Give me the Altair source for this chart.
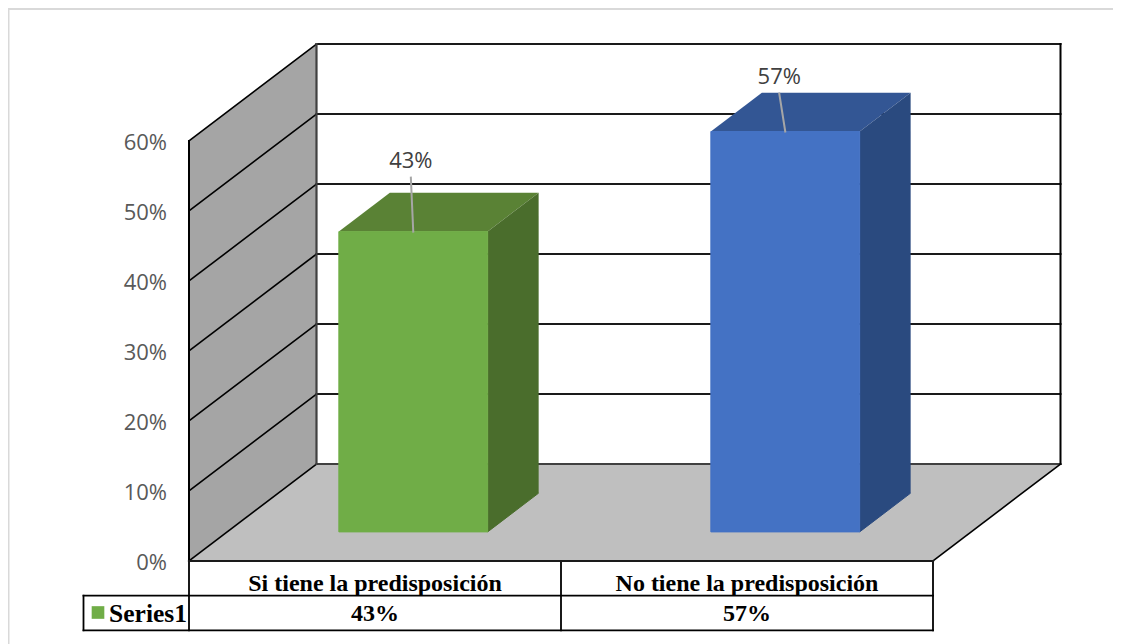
import altair as alt
import pandas as pd

# ---- chart values ----
categories = ["Si tiene la predisposición", "No tiene la predisposición"]
values = [42.9, 57.2]
value_labels = ["43%", "57%"]
series_name = "Series1"
tick_values = [0, 10, 20, 30, 40, 50, 60]
tick_labels = ["0%", "10%", "20%", "30%", "40%", "50%", "60%"]
front_colors = ["#70ad47", "#4472c4"]
top_colors = ["#5a8235", "#335694"]
side_colors = ["#4a6d2c", "#2a4a7f"]

# ---- oblique projection: slot units across, percent up, depth 0..1 ----
SLOT_PX, PCT_PX = 372.0, 7.0
ORIGIN_X, ORIGIN_Y = 189.0, 561.0
DEPTH_X, DEPTH_Y = 127.5 / SLOT_PX, 97.0 / PCT_PX
W, H = 1105, 636
PAGE = 8
U0, U1, D0, D1 = 0.3, 0.7, 0.3, 0.7
TOP = 60

x_scale = alt.Scale(domain=[(PAGE - ORIGIN_X) / SLOT_PX, (PAGE + W - ORIGIN_X) / SLOT_PX], range=[0, W], nice=False, zero=False)
y_scale = alt.Scale(domain=[(ORIGIN_Y - PAGE - H) / PCT_PX, (ORIGIN_Y - PAGE) / PCT_PX], range=[H, 0], nice=False, zero=False)


def px(u, d=0.0):
    return u + d * DEPTH_X


def py(v, d=0.0):
    return v + d * DEPTH_Y


X = alt.X("x:Q", scale=x_scale, axis=None)
X2 = alt.X2("x2:Q")
Y = alt.Y("y:Q", scale=y_scale, axis=None, stack=None)
Y2 = alt.Y2("y2:Q")


def wall(rows, color):
    """vertical-edged parallelogram"""
    return alt.Chart(pd.DataFrame(rows)).mark_area(color=color, opacity=1).encode(x=X, y=Y, y2=Y2)


def flat(rows, color):
    """horizontal-edged parallelogram"""
    return alt.Chart(pd.DataFrame(rows)).mark_area(color=color, opacity=1, orient="horizontal").encode(
        y=Y, x=alt.X("x:Q", scale=x_scale, axis=None, stack=None), x2=X2)


def segs(rows, color, width):
    return alt.Chart(pd.DataFrame(rows, columns=["x", "x2", "y", "y2"])).mark_rule(color=color, strokeWidth=width, strokeCap="square").encode(
        x=X, x2=X2, y=Y, y2=Y2)


def seg(u0, v0, d0, u1, v1, d1):
    return [px(u0, d0), px(u1, d1), py(v0, d0), py(v1, d1)]


layers = []

# side wall
layers.append(wall({"x": [px(0, 0), px(0, 1)],
                    "y": [py(0, 0), py(0, 1)],
                    "y2": [py(TOP, 0), py(TOP, 1)]}, "#a5a5a5"))

# value labels on the value scale
layers.append(alt.Chart(pd.DataFrame({"x": [(167.0 - ORIGIN_X) / SLOT_PX] * len(tick_values), "y": tick_values, "t": tick_labels}))
              .mark_text(font="Open Sans", fontSize=22, color="#595959", align="right", baseline="middle", dy=1.5)
              .encode(x=X, y=Y, text="t:N"))

# outer frame of the picture
x_l = (8.5 - ORIGIN_X) / SLOT_PX
y_t = (ORIGIN_Y - 9.0) / PCT_PX
layers.append(segs([[x_l, (PAGE + W - ORIGIN_X) / SLOT_PX, y_t, y_t],
                    [x_l, x_l, y_t, (ORIGIN_Y - PAGE - H) / PCT_PX]], "#d9d9d9", 2))

# floor
layers.append(flat({"y": [py(0, 0), py(0, 1)],
                    "x": [px(0, 0), px(0, 1)],
                    "x2": [px(2, 0), px(2, 1)]}, "#bfbfbf"))

# gridlines
grid_back = [seg(0, t, 1, 2, t, 1) for t in tick_values[1:]]
grid_side = [seg(0, t, 0, 0, t, 1) for t in tick_values]
layers.append(segs(grid_back, "#1a1a1a", 2))
layers.append(segs([seg(0, 0, 1, 2, 0, 1)], "#404040", 2))
layers.append(segs(grid_side, "#000000", 1.6))
layers.append(segs([seg(0, 0, 1, 0, TOP, 1)], "#404040", 2.2))
layers.append(segs([seg(2, 0, 1, 2, TOP, 1), seg(0, 0, 0, 0, TOP, 0)], "#000000", 2))
layers.append(segs([seg(2, 0, 0, 2, 0, 1)], "#000000", 1.6))

# bars
for i, v in enumerate(values):
    a, b = i + U0, i + U1
    layers.append(flat({"y": [py(v, D0), py(v, D1)],
                        "x": [px(a, D0), px(a, D1)],
                        "x2": [px(b, D0), px(b, D1)]}, top_colors[i]))
    layers.append(alt.Chart(pd.DataFrame({"x": [px(b, D0), px(b, D1)],
                                          "y": [py(0, D0), py(0, D1)],
                                          "y2": [py(v, D0), py(v, D1)]}))
                  .mark_area(color=side_colors[i], opacity=1, line=alt.LineConfig(color=side_colors[i], strokeWidth=1))
                  .encode(x=X, y=Y, y2=Y2))
    layers.append(alt.Chart(pd.DataFrame({"x": [px(a, D0)], "x2": [px(b, D0)], "y": [py(0, D0)], "y2": [py(v, D0)]}))
                  .mark_rect(color=front_colors[i], opacity=1, stroke=front_colors[i], strokeWidth=1).encode(x=X, x2=X2, y=Y, y2=Y2))

# data labels with leader lines (label offsets in slots / percent)
label_dx = [-2.4 / SLOT_PX, -6.0 / SLOT_PX]
label_dy = [71.0 / PCT_PX, 55.0 / PCT_PX]
leader_gap = 17.0 / PCT_PX
label_rows = []
leader_rows = []
for i, v in enumerate(values):
    bx = px(i + 0.5, D0)
    by = py(v, D0)
    lx = bx + label_dx[i]
    ly = by + label_dy[i]
    label_rows.append({"x": lx, "y": ly, "t": value_labels[i]})
    leader_rows.append([lx, bx, ly - leader_gap, by])
layers.append(segs(leader_rows, "#a6a6a6", 2))
layers.append(alt.Chart(pd.DataFrame(label_rows)).mark_text(font="Open Sans", fontSize=22, color="#404040", baseline="middle", align="center")
              .encode(x=X, y=Y, text="t:N"))

# data table
ROW1 = (ORIGIN_Y - 595.7) / PCT_PX
ROW2 = (ORIGIN_Y - 630.3) / PCT_PX
KEY_L = (83.5 - ORIGIN_X) / SLOT_PX
layers.append(segs([[KEY_L, 2, ROW1, ROW1], [KEY_L, 2, ROW2, ROW2], [KEY_L, KEY_L, ROW1, ROW2],
                    [0, 0, 0, ROW2], [1, 1, 0, ROW2], [2, 2, 0, ROW2]], "#000000", 1.8))
layers.append(segs([[0, 2, 0, 0]], "#1a1a1a", 2.2))

row_text = []
ROW1_T = (ORIGIN_Y - 583.5) / PCT_PX
ROW2_T = (ORIGIN_Y - 614.0) / PCT_PX
for i, c in enumerate(categories):
    row_text.append({"x": i + 0.5, "y": ROW1_T, "t": c})
    row_text.append({"x": i + 0.5, "y": ROW2_T, "t": value_labels[i]})
layers.append(alt.Chart(pd.DataFrame(row_text)).mark_text(font="Liberation Serif", fontWeight="bold", fontSize=24, color="#000000", baseline="middle", align="center")
              .encode(x=X, y=Y, text="t:N"))
layers.append(alt.Chart(pd.DataFrame([{"x": -2.0 / SLOT_PX, "y": ROW2_T, "t": series_name}])).mark_text(font="Liberation Serif", fontWeight="bold", fontSize=25.5, color="#000000", baseline="middle", align="right")
              .encode(x=X, y=Y, text="t:N"))
layers.append(alt.Chart(pd.DataFrame([{"x": (98.0 - ORIGIN_X) / SLOT_PX, "y": (ORIGIN_Y - 612.5) / PCT_PX}]))
              .mark_point(shape="square", filled=True, size=160, color=front_colors[0], opacity=1).encode(x=X, y=Y))

chart = alt.layer(*layers).properties(
    width=W, height=H, padding=0, autosize=alt.AutoSizeParams(type="none"), background="white"
).configure_view(stroke=None)

chart.save("out.html", embed_options={"renderer": "svg", "actions": False})
